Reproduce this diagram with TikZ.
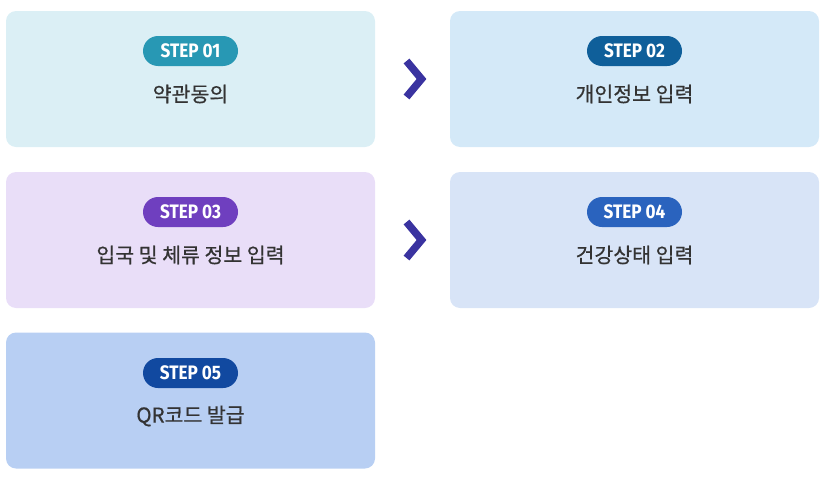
\documentclass[tikz,border=0pt]{standalone}
\usepackage{fontspec}
\newfontfamily\kr[FakeBold=0.6]{Noto Sans CJK KR}
\newfontfamily\stepfont[FakeStretch=0.88]{Fira Sans}
\definecolor{bgA}{HTML}{DBEFF5}
\definecolor{bgB}{HTML}{D4E9F8}
\definecolor{bgC}{HTML}{E9DEF8}
\definecolor{bgD}{HTML}{D8E4F7}
\definecolor{bgE}{HTML}{B8CFF3}
\definecolor{bdA}{HTML}{2898B4}
\definecolor{bdB}{HTML}{0F5F9A}
\definecolor{bdC}{HTML}{6F3FBF}
\definecolor{bdD}{HTML}{2A63BE}
\definecolor{bdE}{HTML}{1149A0}
\definecolor{arr}{HTML}{3A33A0}
\definecolor{txt}{HTML}{333333}
\begin{document}
\begin{tikzpicture}[x=1pt,y=-1pt,
  card/.style={rounded corners=10pt, minimum width=369pt, minimum height=136pt, inner sep=0pt, draw=none},
  badge/.style={rounded corners=15pt, minimum width=95pt, minimum height=30pt, inner sep=0pt, text=white, font=\stepfont\bfseries\fontsize{19.5}{19.5}\selectfont},
  label/.style={text=txt, font=\kr\fontsize{20.5}{20.5}\selectfont, inner sep=0pt},
  chev/.style={draw=arr, line width=7.5pt, miter limit=10}]
\useasboundingbox (0,0) rectangle (825,482);
% cards
\node[card, fill=bgA] (c1) at (190.5,79) {};
\node[card, fill=bgB] (c2) at (634.5,79) {};
\node[card, fill=bgC] (c3) at (190.5,240) {};
\node[card, fill=bgD] (c4) at (634.5,240) {};
\node[card, fill=bgE] (c5) at (190.5,400.5) {};
% badges
\node[badge, fill=bdA] (b1) at (190.5,51) {STEP 01};
\node[badge, fill=bdB] (b2) at (634.5,51) {STEP 02};
\node[badge, fill=bdC] (b3) at (190.5,212) {STEP 03};
\node[badge, fill=bdD] (b4) at (634.5,212) {STEP 04};
\node[badge, fill=bdE] (b5) at (190.5,373) {STEP 05};
% labels
\node[label] (l1) at (190.5,94) {약관동의};
\node[label] (l2) at (634.5,94) {개인정보 입력};
\node[label] (l3) at (190.5,255) {입국 및 체류 정보 입력};
\node[label] (l4) at (634.5,255) {건강상태 입력};
\node[label] (l5) at (190.5,416) {QR코드 발급};
% chevrons
\coordinate (a1) at (412.5,79);
\coordinate (a2) at (412.5,240);
\draw[chev] ([shift={(-6,-18)}]a1) -- ([shift={(9,0)}]a1) -- ([shift={(-6,18)}]a1);
\draw[chev] ([shift={(-6,-18)}]a2) -- ([shift={(9,0)}]a2) -- ([shift={(-6,18)}]a2);
\end{tikzpicture}
\end{document}
